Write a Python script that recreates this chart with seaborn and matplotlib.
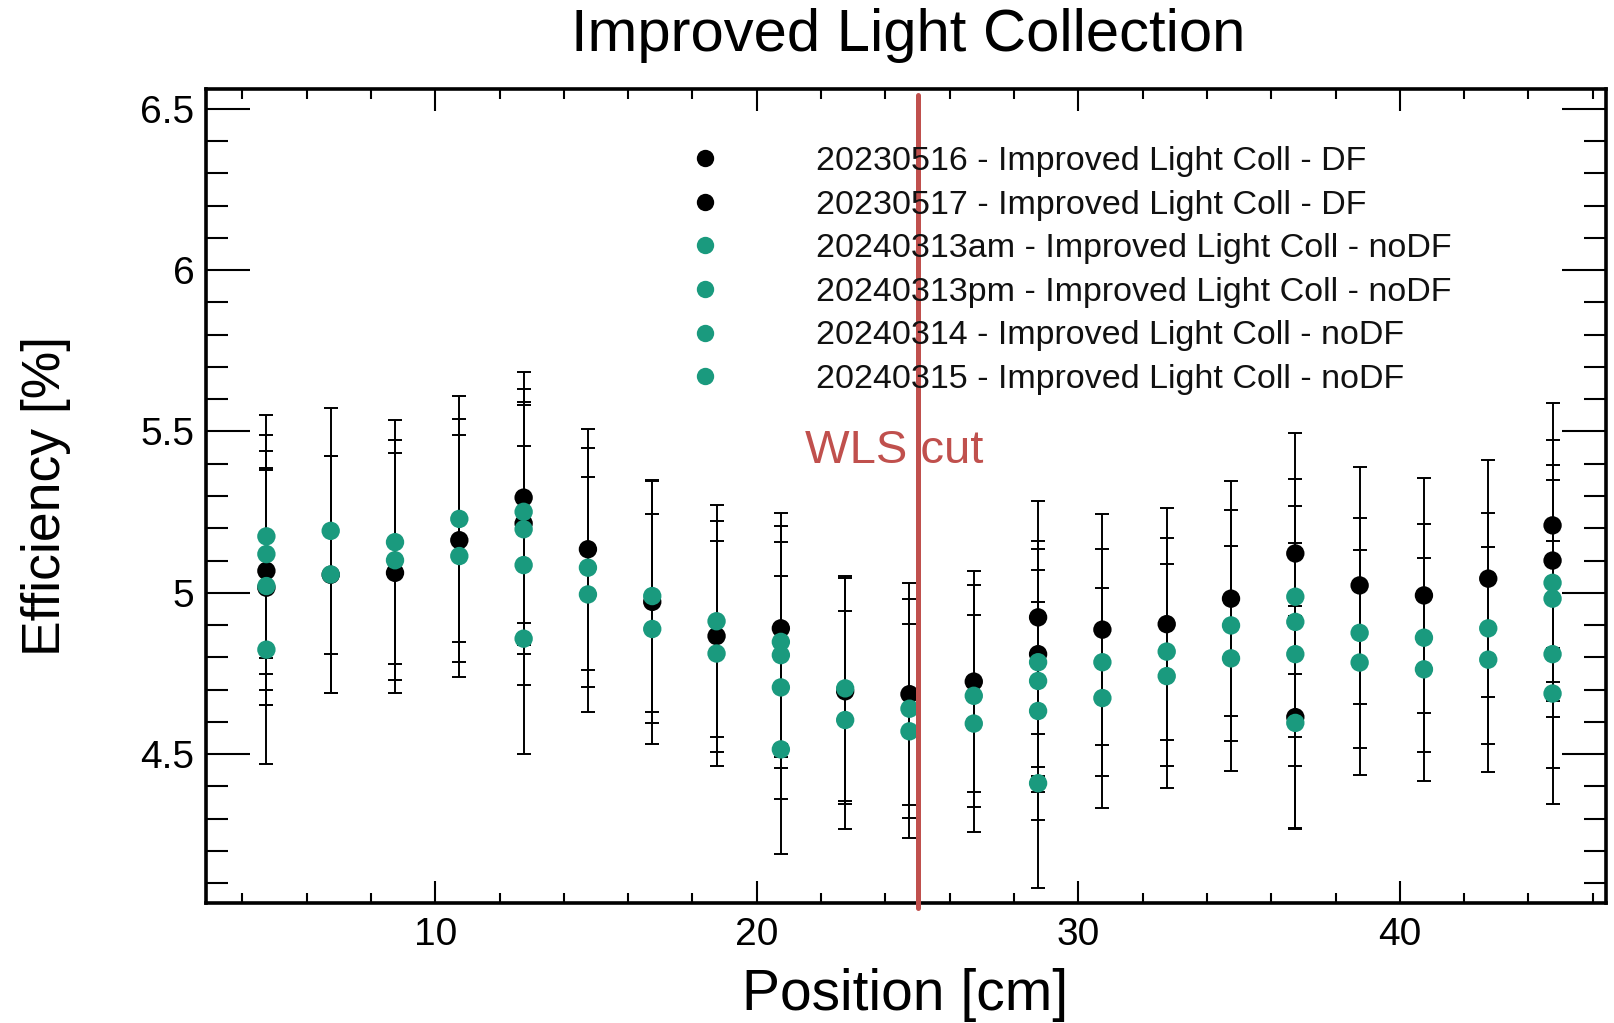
import matplotlib
matplotlib.use("Agg")
import matplotlib.pyplot as plt
from matplotlib.ticker import MultipleLocator
import numpy as np
import pandas as pd
import seaborn as sns

nan = np.nan

# scan positions along the bar [cm]
positions = [4.75, 6.75, 8.75, 10.75, 12.75, 14.75, 16.75, 18.75, 20.75, 22.75, 24.75,
             26.75, 28.75, 30.75, 32.75, 34.75, 36.75, 38.75, 40.75, 42.75, 44.75]

run_labels = [
    "20230516 - Improved Light Coll - DF",
    "20230517 - Improved Light Coll - DF",
    "20240313am - Improved Light Coll - noDF",
    "20240313pm - Improved Light Coll - noDF",
    "20240314 - Improved Light Coll - noDF",
    "20240315 - Improved Light Coll - noDF",
]

# efficiency [%] and its error per run
eff_0516 = [5.068, 5.056, 5.062, 5.163, 5.295, 5.135, 4.972, 4.866, 4.890, 4.695, 4.686,
            4.725, 4.924, 4.886, 4.903, 4.982, 5.122, 5.023, 4.992, 5.044, 5.209]
err_0516 = [0.370, 0.367, 0.372, 0.377, 0.390, 0.374, 0.374, 0.358, 0.358, 0.350, 0.343,
            0.342, 0.361, 0.357, 0.360, 0.363, 0.373, 0.367, 0.364, 0.367, 0.379]

eff_0517 = [5.016, nan, nan, nan, 5.215, nan, nan, nan, nan, nan, nan,
            nan, 4.810, nan, nan, nan, 4.615, nan, nan, nan, 5.100]
err_0517 = [0.364, nan, nan, nan, 0.376, nan, nan, nan, nan, nan, nan,
            nan, 0.350, nan, nan, nan, 0.345, nan, nan, nan, 0.375]

eff_0313am = [5.175, 5.192, 5.157, 5.229, 5.251, 5.078, 4.990, 4.912, 4.848, 4.704, 4.641,
              4.681, 4.785, 4.785, 4.818, 4.899, 4.988, 4.876, 4.861, 4.890, 5.031]
err_0313am = [0.377, 0.380, 0.378, 0.382, 0.380, 0.370, 0.360, 0.360, 0.358, 0.348, 0.340,
              0.344, 0.352, 0.351, 0.353, 0.358, 0.364, 0.357, 0.353, 0.357, 0.366]

eff_0313pm = [5.120, 5.057, 5.101, 5.114, 5.197, 4.995, 4.888, 4.812, 4.807, 4.606, 4.571,
              4.595, 4.727, 4.674, 4.742, 4.797, 4.910, 4.784, 4.763, 4.793, 4.982]
err_0313pm = [0.370, 0.367, 0.371, 0.374, 0.385, 0.363, 0.357, 0.350, 0.351, 0.339, 0.332,
              0.336, 0.345, 0.342, 0.347, 0.349, 0.358, 0.349, 0.345, 0.348, 0.367]

eff_0314 = [5.021, nan, nan, nan, 5.086, nan, nan, nan, 4.707, nan, nan,
            nan, 4.634, nan, nan, nan, 4.810, nan, nan, nan, 4.810]
err_0314 = [0.367, nan, nan, nan, 0.370, nan, nan, nan, 0.345, nan, nan,
            nan, 0.338, nan, nan, nan, 0.345, nan, nan, nan, 0.352]

eff_0315 = [4.824, nan, nan, nan, 4.858, nan, nan, nan, 4.515, nan, nan,
            nan, 4.410, nan, nan, nan, 4.597, nan, nan, nan, 4.688]
err_0315 = [0.353, nan, nan, nan, 0.356, nan, nan, nan, 0.324, nan, nan,
            nan, 0.326, nan, nan, nan, 0.330, nan, nan, nan, 0.343]

WLS_CUT = 25.0

BLACK = "#000000"
TEAL = "#1a9a7e"
RED = "#c0504d"
run_colors = [BLACK, BLACK, TEAL, TEAL, TEAL, TEAL]

# long table, DF runs first so the teal points sit on top
frames = []
for lab, eff, err in zip(run_labels,
                         [eff_0516, eff_0517, eff_0313am, eff_0313pm, eff_0314, eff_0315],
                         [err_0516, err_0517, err_0313am, err_0313pm, err_0314, err_0315]):
    frames.append(pd.DataFrame({"pos": positions, "eff": eff, "err": err, "run": lab}))
df = pd.concat(frames, ignore_index=True).dropna()

sns.set_style("ticks")
plt.rcParams["font.family"] = ["Liberation Sans", "DejaVu Sans"]
plt.rcParams.update({"text.color": "black", "axes.labelcolor": "black",
                     "xtick.color": "black", "ytick.color": "black"})

fig = plt.figure(figsize=(16.14, 10.23), dpi=100)
ax = fig.add_axes([0.1274, 0.1176, 0.8674, 0.7951])

ax.errorbar(df["pos"], df["eff"], yerr=df["err"], fmt="none", ecolor="black",
            elinewidth=1.4, capsize=4.7, capthick=1.4, zorder=2)

sns.scatterplot(data=df, x="pos", y="eff", hue="run", hue_order=run_labels,
                palette=dict(zip(run_labels, run_colors)), s=175, linewidth=0,
                zorder=3, ax=ax)

ax.set_xlim(2.86, 46.4)
ax.set_ylim(4.04, 6.56)

ax.xaxis.set_major_locator(MultipleLocator(10))
ax.xaxis.set_minor_locator(MultipleLocator(2))
ax.yaxis.set_major_locator(MultipleLocator(0.5))
ax.yaxis.set_minor_locator(MultipleLocator(0.1))
ax.yaxis.set_major_formatter(matplotlib.ticker.FuncFormatter(lambda v, p: f"{v:g}"))

ax.tick_params(which="both", direction="in", top=True, right=True, width=1.5,
               color="black", labelcolor="black", labelsize=28)
ax.tick_params(axis="x", which="major", length=15.8, pad=10)
ax.tick_params(axis="x", which="minor", length=7.2)
ax.tick_params(axis="y", which="major", length=31.7, pad=8)
ax.tick_params(axis="y", which="minor", length=15.8)
for sp in ax.spines.values():
    sp.set_linewidth(2.6)
    sp.set_color("black")

ax.set_xlabel("Position [cm]", fontsize=41, labelpad=11)
ax.set_ylabel("Efficiency [%]", fontsize=38.5, labelpad=50)
fig.text(0.5625, 0.965, "Improved Light Collection", fontsize=43, ha="center", va="center")

# WLS cut marker
ax.axvline(WLS_CUT, ymin=-0.006, ymax=0.993, color=RED, lw=3.6, clip_on=False, zorder=4)
ax.text(21.5, 5.44, "WLS cut", color=RED, fontsize=34, ha="left", va="center", zorder=5)

handles, labels = ax.get_legend_handles_labels()
leg = ax.legend(handles, labels, loc="upper left", bbox_to_anchor=(0.4263, 0.8572),
                bbox_transform=fig.transFigure, frameon=False, fontsize=24.5,
                handlelength=1.0, handletextpad=2.76, labelspacing=0.37,
                borderpad=0, borderaxespad=0)
for h in leg.legend_handles:
    h.set_markersize(12.5)
for t in leg.get_texts():
    t.set_color("#111111")

fig.savefig("out.png", dpi=100)
